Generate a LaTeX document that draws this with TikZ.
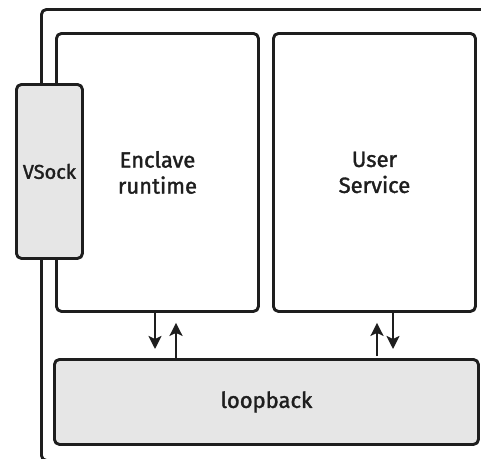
\documentclass[tikz,border=0pt]{standalone}
\usepackage{fontspec}
\setmainfont{Fira Sans}
\newfontfamily\labelfont[FakeBold=1.6]{Fira Sans}
\usetikzlibrary{arrows.meta}
\definecolor{ink}{HTML}{1E1E1E}
\definecolor{panel}{HTML}{E6E6E6}
\begin{document}
\begin{tikzpicture}[x=1pt, y=-1pt, line join=round,
  box/.style={draw=ink, line width=2.9pt, rounded corners=5pt,
    anchor=north west, inner sep=0pt,
    font=\labelfont\fontsize{22}{26}\selectfont,
    align=center, text=ink},
  filled/.style={box, fill=panel},
  flow/.style={draw=ink, line width=2.4pt,
    -{Stealth[length=13pt, width=13pt, inset=3pt]}}]
\useasboundingbox (0,0) rectangle (481,458);

% enclosing host frame (runs past the right and bottom borders)
\node[box, minimum width=480pt, minimum height=451pt] (host) at (40,8) {};

% inner components
\node[box, minimum width=202pt, minimum height=278pt] (enclave) at (55,32) {Enclave\\runtime};
\node[box, minimum width=202pt, minimum height=278pt] (user) at (272,32) {User\\Service};
\node[filled, minimum width=66pt, minimum height=174pt, font=\labelfont\fontsize{20}{24}\selectfont] (vsock) at (15,83) {VSock};
\node[filled, minimum width=424pt, minimum height=85pt] (loop) at (53,358) {loopback};

% connection anchors along the gap
\coordinate (e1) at (155,0);
\coordinate (e2) at (176,0);
\coordinate (u1) at (377,0);
\coordinate (u2) at (393,0);

% traffic between the services and the loopback
\draw[flow, shorten >=-1pt] (enclave.south -| e1) -- ([yshift=10pt]loop.north -| e1);
\draw[flow] (loop.north -| e2) -- ([yshift=-10pt]enclave.south -| e2);
\draw[flow] ([yshift=2pt]loop.north -| u1) -- ([yshift=-10pt]user.south -| u1);
\draw[flow, shorten >=-1pt] (user.south -| u2) -- ([yshift=10pt]loop.north -| u2);
\end{tikzpicture}
\end{document}
